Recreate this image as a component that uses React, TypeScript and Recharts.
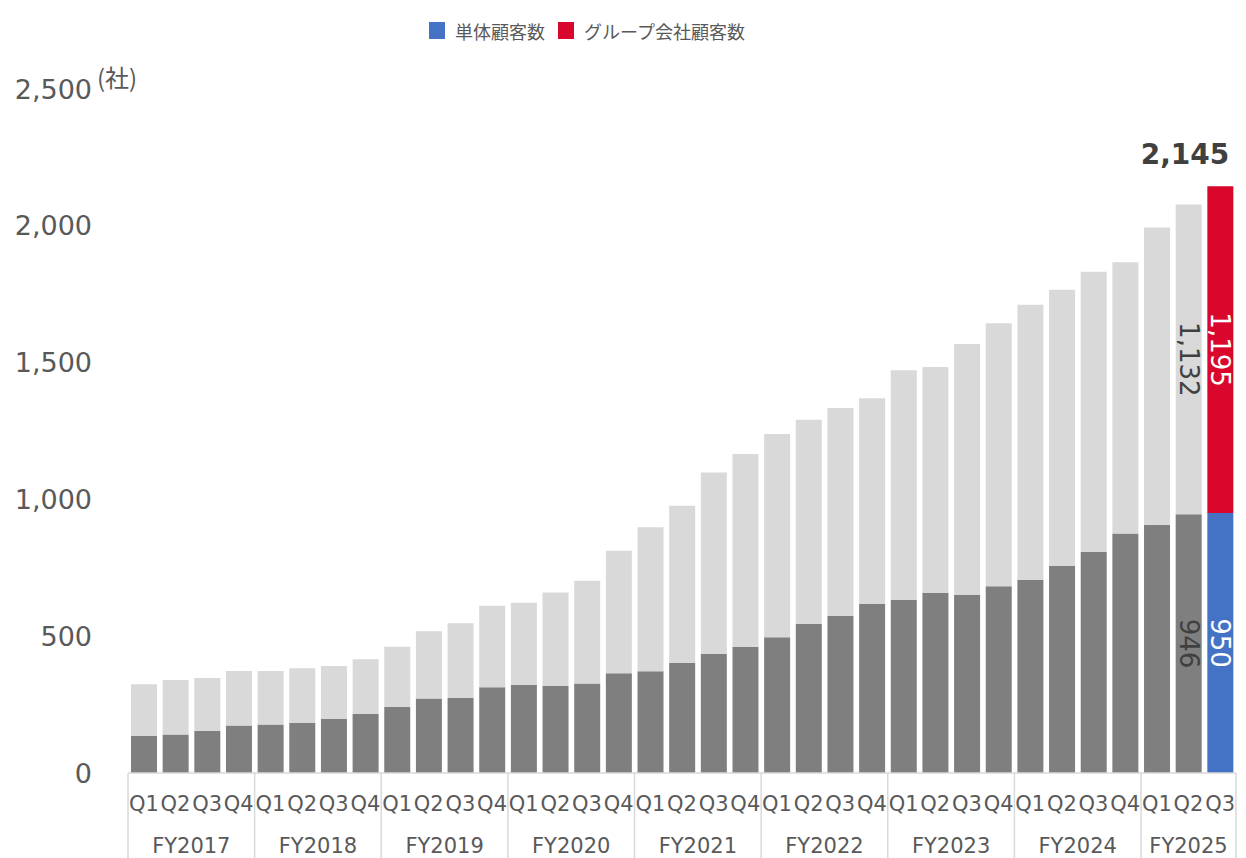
import React from 'react';
import { BarChart, Bar, XAxis, YAxis, Cell, LabelList } from 'recharts';

const quarters = [
  'Q1', 'Q2', 'Q3', 'Q4', 'Q1', 'Q2', 'Q3', 'Q4', 'Q1', 'Q2', 'Q3', 'Q4',
  'Q1', 'Q2', 'Q3', 'Q4', 'Q1', 'Q2', 'Q3', 'Q4', 'Q1', 'Q2', 'Q3', 'Q4',
  'Q1', 'Q2', 'Q3', 'Q4', 'Q1', 'Q2', 'Q3', 'Q4', 'Q1', 'Q2', 'Q3'
];
const fiscalYears = [
  'FY2017', 'FY2017', 'FY2017', 'FY2017', 'FY2018', 'FY2018', 'FY2018', 'FY2018',
  'FY2019', 'FY2019', 'FY2019', 'FY2019', 'FY2020', 'FY2020', 'FY2020', 'FY2020',
  'FY2021', 'FY2021', 'FY2021', 'FY2021', 'FY2022', 'FY2022', 'FY2022', 'FY2022',
  'FY2023', 'FY2023', 'FY2023', 'FY2023', 'FY2024', 'FY2024', 'FY2024', 'FY2024',
  'FY2025', 'FY2025', 'FY2025'
];
// 単体顧客数
const standalone = [
  136, 141, 154, 174, 177, 183, 197, 216, 242, 272, 275, 313,
  322, 318, 327, 365, 372, 403, 436, 461, 496, 545, 574, 618,
  633, 658, 651, 683, 706, 757, 808, 875, 907, 946, 950
];
// グループ会社顧客数
const groupCompanies = [
  188, 199, 193, 199, 196, 200, 194, 200, 219, 246, 272, 298,
  300, 342, 376, 447, 526, 574, 662, 705, 743, 746, 760, 752,
  839, 826, 917, 961, 1005, 1009, 1024, 992, 1087, 1132, 1195
];
const yTicks = [0, 500, 1000, 1500, 2000, 2500];

const W = 1246;
const H = 858;
const LEFT = 128;
const RIGHT = 10;
const TOP = 89;
const XAXIS_H = 85;
const band = (W - LEFT - RIGHT) / quarters.length;

const TEXT = '#595959';
const DARK = '#404040';
const FONT = '"DejaVu Sans", Verdana, "Noto Sans CJK JP", sans-serif';
const JP_FONT = '"Noto Sans CJK JP", "DejaVu Sans", sans-serif';

const data = quarters.map((q, i) => ({
  q,
  fy: fiscalYears[i],
  standalone: standalone[i],
  group: groupCompanies[i]
}));

const lastIdx = data.length - 1;
const fmt = (v: number) => v.toLocaleString('en-US');

const QuarterTick = (props: any) => {
  const { x, y, index } = props;
  const fy = fiscalYears[index];
  const isFirst = index === 0 || fiscalYears[index - 1] !== fy;
  const count = fiscalYears.filter((f) => f === fy).length;
  const left = x - band / 2;
  return (
    <g>
      <text x={x} y={y + 38} textAnchor="middle" fill={TEXT} fontSize={21} fontFamily={FONT}>
        {quarters[index]}
      </text>
      {isFirst && (
        <>
          <line x1={left} y1={y} x2={left} y2={H} stroke="#d9d9d9" strokeWidth={1.5} />
          <text x={left + (count * band) / 2} y={y + 80} textAnchor="middle" fill={TEXT} fontSize={21} fontFamily={FONT}>
            {fy}
          </text>
        </>
      )}
      {index === lastIdx && <line x1={x + band / 2} y1={y} x2={x + band / 2} y2={H} stroke="#d9d9d9" strokeWidth={1.5} />}
    </g>
  );
};

const makeLabel = (darkColor: string, lightColor: string, withTotal: boolean) => (p: any) => {
  const { x, y, width, height, value, index } = p;
  if (index < lastIdx - 1) return null;
  const cx = x + width / 2;
  const cy = y + height / 2;
  const color = index === lastIdx ? lightColor : darkColor;
  return (
    <g>
      <text
        x={cx}
        y={cy}
        transform={`rotate(90 ${cx} ${cy})`}
        textAnchor="middle"
        dominantBaseline="central"
        fill={color}
        fontSize={26}
        fontFamily={FONT}
      >
        {fmt(value)}
      </text>
      {withTotal && index === lastIdx && (
        <text x={x + width - 4} y={y - 22} textAnchor="end" fill={DARK} fontSize={28} fontWeight="bold" fontFamily={FONT}>
          {fmt(standalone[lastIdx] + groupCompanies[lastIdx])}
        </text>
      )}
    </g>
  );
};

const Legend = () => (
  <div style={{ position: 'absolute', left: 0, top: 0, width: W, fontFamily: JP_FONT, fontSize: 18, color: TEXT }}>
    <div style={{ position: 'absolute', left: 429, top: 22, width: 16, height: 17, background: '#4472c4' }} />
    <div style={{ position: 'absolute', left: 455, top: 18, whiteSpace: 'nowrap' }}>単体顧客数</div>
    <div style={{ position: 'absolute', left: 558, top: 22, width: 16, height: 17, background: '#d9072b' }} />
    <div style={{ position: 'absolute', left: 584, top: 18, whiteSpace: 'nowrap' }}>グループ会社顧客数</div>
  </div>
);

export default function App() {
  return (
    <div style={{ position: 'absolute', left: 0, top: 0, width: W, height: H, background: '#fff', overflow: 'hidden' }}>
      <BarChart width={W} height={H} data={data} margin={{ top: TOP, right: RIGHT, bottom: 0, left: 0 }}>
        <XAxis
          dataKey="q"
          height={XAXIS_H}
          interval={0}
          tickLine={false}
          tickSize={0}
          tickMargin={0}
          axisLine={{ stroke: '#d9d9d9', strokeWidth: 1.5 }}
          tick={<QuarterTick />}
        />
        <YAxis
          width={LEFT}
          domain={[0, 2500]}
          ticks={yTicks}
          axisLine={false}
          tickLine={false}
          tickSize={0}
          tickMargin={36}
          tickFormatter={fmt}
          tick={{ fill: TEXT, fontSize: 27, fontFamily: FONT }}
        />
        <Bar dataKey="standalone" stackId="a" barSize={26} isAnimationActive={false}>
          {data.map((_, i) => (
            <Cell key={i} fill={i === lastIdx ? '#4472c4' : '#7f7f7f'} />
          ))}
          <LabelList dataKey="standalone" content={makeLabel(DARK, '#ffffff', false)} />
        </Bar>
        <Bar dataKey="group" stackId="a" barSize={26} isAnimationActive={false}>
          {data.map((_, i) => (
            <Cell key={i} fill={i === lastIdx ? '#d9072b' : '#d9d9d9'} />
          ))}
          <LabelList dataKey="group" content={makeLabel(DARK, '#ffffff', true)} />
        </Bar>
        <text x={97} y={87} fill={TEXT} fontSize={24} fontFamily={JP_FONT}>
          (社)
        </text>
      </BarChart>
      <Legend />
    </div>
  );
}
